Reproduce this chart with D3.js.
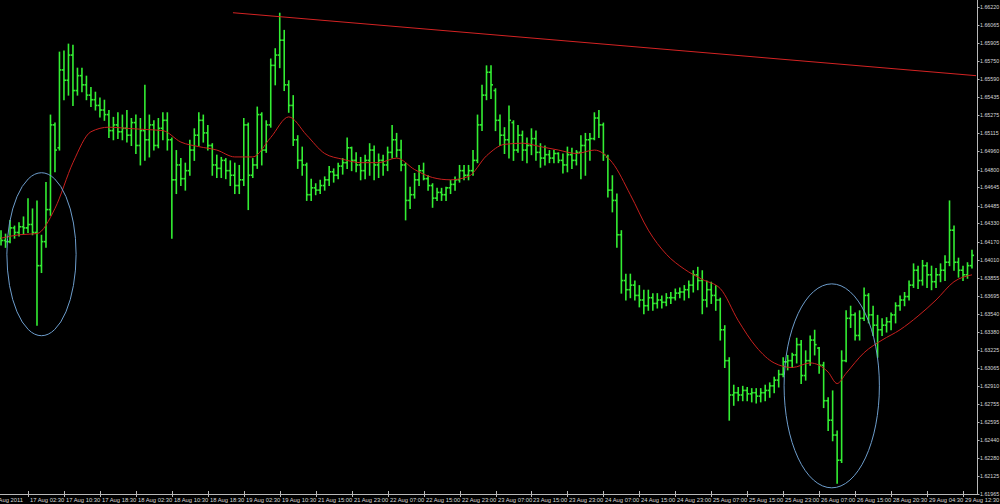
<!DOCTYPE html>
<html>
<head>
<meta charset="utf-8">
<script src="https://cdn.jsdelivr.net/npm/d3@7"></script>
<style>
html,body{margin:0;padding:0;background:#000;}
svg{display:block;}
</style>
</head>
<body>
<svg id="chart" width="1000" height="504"></svg>
<script>
// ---- data (GBPUSD-style bars, one bar per slot) ----
const opens = [1.6420,1.6418,1.6417,1.6429,1.6425,1.6430,1.6429,1.6432,1.6425,1.6396,
1.6417,1.6445,1.6519,1.6499,1.6567,1.6558,1.6580,1.6549,1.6562,1.6554,
1.6545,1.6541,1.6536,1.6532,1.6528,1.6514,1.6519,1.6513,1.6516,1.6510,
1.6521,1.6501,1.6514,1.6506,1.6519,1.6501,1.6516,1.6523,1.6506,1.6471,
1.6484,1.6472,1.6479,1.6497,1.6510,1.6523,1.6512,1.6501,1.6484,1.6481,
1.6488,1.6479,1.6475,1.6466,1.6471,1.6519,1.6475,1.6484,1.6528,1.6497,
1.6519,1.6571,1.6580,1.6593,1.6554,1.6536,1.6506,1.6488,1.6484,1.6458,
1.6464,1.6462,1.6466,1.6471,1.6478,1.6475,1.6483,1.6486,1.6499,1.6488,
1.6484,1.6479,1.6488,1.6497,1.6484,1.6488,1.6484,1.6495,1.6506,1.6497,
1.6484,1.6453,1.6458,1.6471,1.6479,1.6472,1.6466,1.6455,1.6460,1.6458,
1.6464,1.6467,1.6471,1.6479,1.6475,1.6479,1.6488,1.6519,1.6545,1.6565,
1.6549,1.6523,1.6510,1.6506,1.6521,1.6497,1.6510,1.6497,1.6501,1.6507,
1.6495,1.6490,1.6493,1.6490,1.6494,1.6488,1.6484,1.6493,1.6488,1.6495,
1.6501,1.6506,1.6507,1.6525,1.6519,1.6491,1.6462,1.6453,1.6423,1.6383,
1.6375,1.6379,1.6370,1.6366,1.6361,1.6368,1.6363,1.6366,1.6364,1.6368,
1.6368,1.6372,1.6373,1.6375,1.6379,1.6388,1.6383,1.6366,1.6375,1.6370,
1.6366,1.6340,1.6313,1.6283,1.6285,1.6283,1.6287,1.6284,1.6285,1.6282,
1.6285,1.6287,1.6291,1.6296,1.6301,1.6312,1.6313,1.6318,1.6327,1.6300,
1.6313,1.6331,1.6324,1.6309,1.6278,1.6261,1.6248,1.6226,1.6313,1.6350,
1.6353,1.6335,1.6350,1.6370,1.6353,1.6344,1.6340,1.6344,1.6347,1.6353,
1.6361,1.6366,1.6369,1.6379,1.6392,1.6383,1.6396,1.6388,1.6382,1.6388,
1.6392,1.6399,1.6427,1.6399,1.6392,1.6388,1.6396];

const highs = [1.6427,1.6424,1.6436,1.6431,1.6434,1.6439,1.6455,1.6446,1.6453,1.6423,
1.6469,1.6528,1.6521,1.6583,1.6584,1.6590,1.6589,1.6569,1.6569,1.6562,
1.6552,1.6548,1.6543,1.6541,1.6532,1.6526,1.6530,1.6528,1.6532,1.6525,
1.6528,1.6525,1.6554,1.6528,1.6523,1.6525,1.6530,1.6530,1.6508,1.6497,
1.6490,1.6486,1.6506,1.6516,1.6530,1.6528,1.6519,1.6503,1.6493,1.6491,
1.6490,1.6488,1.6486,1.6484,1.6525,1.6521,1.6490,1.6535,1.6530,1.6523,
1.6577,1.6586,1.6617,1.6602,1.6558,1.6545,1.6510,1.6500,1.6486,1.6472,
1.6468,1.6471,1.6474,1.6483,1.6481,1.6486,1.6490,1.6508,1.6500,1.6495,
1.6491,1.6493,1.6503,1.6501,1.6494,1.6493,1.6500,1.6519,1.6512,1.6506,
1.6486,1.6465,1.6477,1.6484,1.6486,1.6475,1.6468,1.6464,1.6464,1.6465,
1.6471,1.6474,1.6484,1.6484,1.6484,1.6497,1.6528,1.6554,1.6571,1.6571,
1.6551,1.6528,1.6517,1.6536,1.6523,1.6519,1.6514,1.6508,1.6516,1.6514,
1.6503,1.6501,1.6497,1.6497,1.6495,1.6494,1.6500,1.6499,1.6497,1.6510,
1.6512,1.6512,1.6530,1.6532,1.6521,1.6493,1.6475,1.6459,1.6427,1.6389,
1.6389,1.6383,1.6379,1.6375,1.6375,1.6372,1.6372,1.6370,1.6372,1.6373,
1.6376,1.6377,1.6379,1.6383,1.6392,1.6395,1.6392,1.6383,1.6382,1.6379,
1.6368,1.6344,1.6316,1.6292,1.6290,1.6291,1.6290,1.6289,1.6289,1.6289,
1.6292,1.6294,1.6299,1.6305,1.6316,1.6318,1.6320,1.6333,1.6331,1.6322,
1.6335,1.6340,1.6325,1.6312,1.6281,1.6287,1.6252,1.6322,1.6357,1.6361,
1.6355,1.6357,1.6377,1.6372,1.6361,1.6353,1.6350,1.6351,1.6355,1.6364,
1.6370,1.6373,1.6383,1.6398,1.6396,1.6401,1.6399,1.6396,1.6394,1.6398,
1.6405,1.6453,1.6431,1.6403,1.6396,1.6399,1.6410];

const lows = [1.6414,1.6412,1.6416,1.6420,1.6422,1.6424,1.6425,1.6423,1.6344,1.6390,
1.6412,1.6440,1.6478,1.6497,1.6541,1.6545,1.6536,1.6545,1.6548,1.6541,
1.6535,1.6532,1.6526,1.6523,1.6508,1.6506,1.6507,1.6506,1.6504,1.6501,
1.6494,1.6484,1.6488,1.6491,1.6497,1.6499,1.6506,1.6497,1.6420,1.6459,
1.6466,1.6462,1.6475,1.6488,1.6501,1.6504,1.6497,1.6475,1.6473,1.6473,
1.6472,1.6466,1.6459,1.6459,1.6466,1.6445,1.6473,1.6481,1.6484,1.6495,
1.6517,1.6554,1.6569,1.6549,1.6530,1.6501,1.6481,1.6475,1.6453,1.6453,
1.6458,1.6459,1.6462,1.6466,1.6469,1.6472,1.6476,1.6481,1.6479,1.6478,
1.6471,1.6472,1.6475,1.6471,1.6473,1.6475,1.6479,1.6490,1.6491,1.6479,
1.6436,1.6446,1.6455,1.6466,1.6471,1.6462,1.6447,1.6453,1.6453,1.6453,
1.6459,1.6462,1.6469,1.6471,1.6471,1.6475,1.6486,1.6514,1.6541,1.6542,
1.6514,1.6501,1.6494,1.6490,1.6488,1.6495,1.6488,1.6486,1.6493,1.6488,
1.6482,1.6484,1.6486,1.6486,1.6486,1.6477,1.6478,1.6481,1.6484,1.6472,
1.6475,1.6488,1.6506,1.6508,1.6488,1.6456,1.6443,1.6412,1.6372,1.6366,
1.6368,1.6366,1.6360,1.6354,1.6357,1.6357,1.6359,1.6359,1.6361,1.6363,
1.6366,1.6368,1.6366,1.6368,1.6373,1.6375,1.6354,1.6360,1.6363,1.6357,
1.6331,1.6307,1.6261,1.6274,1.6278,1.6278,1.6278,1.6277,1.6276,1.6277,
1.6278,1.6281,1.6285,1.6290,1.6299,1.6305,1.6307,1.6311,1.6293,1.6296,
1.6309,1.6318,1.6302,1.6272,1.6252,1.6243,1.6206,1.6224,1.6312,1.6342,
1.6331,1.6331,1.6348,1.6346,1.6335,1.6316,1.6335,1.6338,1.6340,1.6346,
1.6357,1.6361,1.6366,1.6377,1.6376,1.6379,1.6377,1.6375,1.6377,1.6382,
1.6383,1.6396,1.6392,1.6386,1.6383,1.6385,1.6394];

const closes = [1.6418,1.6417,1.6429,1.6425,1.6430,1.6429,1.6432,1.6425,1.6396,1.6417,
1.6445,1.6519,1.6497,1.6567,1.6558,1.6580,1.6549,1.6562,1.6554,1.6545,
1.6541,1.6536,1.6532,1.6528,1.6514,1.6519,1.6513,1.6516,1.6510,1.6521,
1.6501,1.6514,1.6506,1.6519,1.6501,1.6516,1.6523,1.6506,1.6471,1.6484,
1.6472,1.6479,1.6497,1.6510,1.6523,1.6512,1.6501,1.6484,1.6481,1.6488,
1.6479,1.6475,1.6466,1.6471,1.6519,1.6475,1.6484,1.6528,1.6497,1.6519,
1.6571,1.6580,1.6593,1.6554,1.6536,1.6506,1.6488,1.6484,1.6458,1.6464,
1.6462,1.6466,1.6471,1.6478,1.6475,1.6483,1.6486,1.6499,1.6488,1.6484,
1.6479,1.6488,1.6497,1.6484,1.6488,1.6484,1.6495,1.6506,1.6497,1.6484,
1.6453,1.6458,1.6471,1.6479,1.6472,1.6466,1.6455,1.6460,1.6458,1.6464,
1.6467,1.6471,1.6479,1.6475,1.6479,1.6488,1.6519,1.6545,1.6565,1.6554,
1.6523,1.6510,1.6506,1.6523,1.6497,1.6510,1.6497,1.6501,1.6507,1.6495,
1.6490,1.6493,1.6490,1.6494,1.6488,1.6484,1.6493,1.6488,1.6495,1.6501,
1.6506,1.6507,1.6525,1.6519,1.6493,1.6462,1.6453,1.6423,1.6383,1.6375,
1.6379,1.6370,1.6366,1.6361,1.6368,1.6363,1.6366,1.6364,1.6368,1.6368,
1.6372,1.6373,1.6375,1.6379,1.6388,1.6383,1.6366,1.6375,1.6370,1.6366,
1.6340,1.6313,1.6283,1.6285,1.6283,1.6287,1.6284,1.6285,1.6282,1.6285,
1.6287,1.6291,1.6296,1.6301,1.6312,1.6313,1.6318,1.6327,1.6300,1.6313,
1.6331,1.6327,1.6309,1.6278,1.6261,1.6248,1.6226,1.6313,1.6350,1.6353,
1.6335,1.6350,1.6370,1.6353,1.6344,1.6340,1.6344,1.6347,1.6353,1.6361,
1.6366,1.6369,1.6379,1.6392,1.6383,1.6396,1.6388,1.6382,1.6388,1.6392,
1.6399,1.6427,1.6399,1.6392,1.6388,1.6396,1.6405];

// moving average, read at selected bar indices
const maIndex = [0,4,8,12,16,20,24,28,32,36,40,44,48,52,56,60,64,68,72,76,80,84,88,92,96,100,104,108,112,116,120,124,128,132,136,140,144,148,152,156,160,164,168,172,176,180,184,186,188,192,196,200,204,208,212,216];
const maValues = [1.6420,1.6423,1.6424,1.6446,1.6486,1.6513,1.6517,1.6516,1.6515,1.6514,1.6504,1.6500,1.6497,1.6491,1.6491,1.6508,1.6526,1.6510,1.6494,1.6489,1.6486,1.6486,1.6490,1.6480,1.6473,1.6471,1.6474,1.6492,1.6502,1.6503,1.6500,1.6497,1.6494,1.6497,1.6486,1.6458,1.6427,1.6406,1.6393,1.6384,1.6376,1.6348,1.6325,1.6311,1.6307,1.6311,1.6303,1.6293,1.6302,1.6320,1.6331,1.6340,1.6352,1.6366,1.6382,1.6388];

// resistance trend line (bar index, price)
const trendIdx = [51.6, 216.9];
const trendPrice = [1.6617, 1.6562];

// highlighted zones: centre bar, centre price, half width (bars), half height (price)
const ellipseIdx = [9.0, 184.8];
const ellipsePrice = [1.6406, 1.6291];
const ellipseHalfBars = [7.7, 10.6];
const ellipseHalfPrice = [0.00712, 0.00891];

// axes
const priceTicks = ["1.66220","1.66065","1.65905","1.65750","1.65590","1.65435","1.65275","1.65115","1.64960","1.64800","1.64645","1.64485","1.64330","1.64170","1.64010","1.63855","1.63695","1.63540","1.63380","1.63225","1.63065","1.62910","1.62755","1.62595","1.62440","1.62280","1.62125","1.61965"];
const timeTickIdx = [6,14,22,30,38,46,54,62,70,78,86,94,102,110,118,126,134,142,150,158,166,174,182,190,198,206,214];
const timeTicks = ["17 Aug 02:30","17 Aug 10:30","17 Aug 18:30","18 Aug 02:30","18 Aug 10:30","18 Aug 18:30","19 Aug 02:30","19 Aug 10:30","21 Aug 15:00","21 Aug 23:00","22 Aug 07:00","22 Aug 15:00","22 Aug 23:00","23 Aug 07:00","23 Aug 15:00","23 Aug 23:00","24 Aug 07:00","24 Aug 15:00","24 Aug 23:00","25 Aug 07:00","25 Aug 15:00","25 Aug 23:00","26 Aug 07:00","26 Aug 15:00","28 Aug 20:30","29 Aug 04:30","29 Aug 12:30"];
const firstDateLabel = "16 Aug 2011";

// ---- drawing ----
const W = 1000, H = 504;
const plotRight = 977, plotBottom = 494;
const svg = d3.select("#chart");
svg.append("rect").attr("width", W).attr("height", H).attr("fill", "#000");

const x = d3.scaleLinear().domain([6, 214]).range([28, 963]);
const y = d3.scaleLinear().domain([1.61965, 1.66220]).range([plotBottom, 7]);

svg.append("clipPath").attr("id", "plotclip")
  .append("rect").attr("x", 0).attr("y", 0).attr("width", plotRight).attr("height", plotBottom);

const plot = svg.append("g").attr("clip-path", "url(#plotclip)");

const bars = d3.range(opens.length).map(i => ({i, o: opens[i], h: highs[i], l: lows[i], c: closes[i]}));
const barColor = "#33ee33";
const tick = 2;
const bg = plot.append("g").attr("stroke", barColor).attr("stroke-width", 1.6);
bg.selectAll("line.hl").data(bars).join("line").attr("class", "hl")
  .attr("x1", d => x(d.i)).attr("x2", d => x(d.i))
  .attr("y1", d => y(d.h)).attr("y2", d => y(d.l) + 0.5);
bg.selectAll("line.op").data(bars).join("line").attr("class", "op")
  .attr("x1", d => x(d.i) - tick).attr("x2", d => x(d.i))
  .attr("y1", d => y(d.o)).attr("y2", d => y(d.o));
bg.selectAll("line.cl").data(bars).join("line").attr("class", "cl")
  .attr("x1", d => x(d.i)).attr("x2", d => x(d.i) + tick)
  .attr("y1", d => y(d.c)).attr("y2", d => y(d.c));

// moving average
const maPts = maIndex.map((k, j) => [k, maValues[j]]);
plot.append("path").datum(maPts)
  .attr("fill", "none").attr("stroke", "#c8201e").attr("stroke-width", 1)
  .attr("d", d3.line().x(d => x(d[0])).y(d => y(d[1])).curve(d3.curveMonotoneX));

// trend line
plot.append("line")
  .attr("x1", x(trendIdx[0])).attr("y1", y(trendPrice[0]))
  .attr("x2", x(trendIdx[1])).attr("y2", y(trendPrice[1]))
  .attr("stroke", "#d42323").attr("stroke-width", 1);

// ellipses
ellipseIdx.forEach((k, j) => {
  const cx = x(k), cy = y(ellipsePrice[j]);
  const rx = x(k + ellipseHalfBars[j]) - cx;
  const ry = y(ellipsePrice[j] - ellipseHalfPrice[j]) - cy;
  plot.append("ellipse").attr("cx", cx).attr("cy", cy).attr("rx", rx).attr("ry", ry)
    .attr("fill", "none").attr("stroke", "#6d9dcc").attr("stroke-width", 1);
});

// axes frame
const axisColor = "#b8b8b8";
const textColor = "#d8d8d8";
const font = "'Liberation Sans', Arial, sans-serif";
svg.append("line").attr("x1", plotRight + 0.5).attr("x2", plotRight + 0.5).attr("y1", 0).attr("y2", plotBottom + 0.5)
  .attr("stroke", axisColor).attr("stroke-width", 1);
svg.append("line").attr("x1", 0).attr("x2", plotRight + 0.5).attr("y1", plotBottom + 0.5).attr("y2", plotBottom + 0.5)
  .attr("stroke", axisColor).attr("stroke-width", 1);

// price axis
const yAxisG = svg.append("g");
priceTicks.forEach(t => {
  const py = Math.round(y(+t)) + 0.5;
  yAxisG.append("line").attr("x1", plotRight).attr("x2", plotRight + 2.5).attr("y1", py).attr("y2", py)
    .attr("stroke", axisColor).attr("stroke-width", 1);
  yAxisG.append("text").attr("x", plotRight + 3).attr("y", py).attr("dy", "0.35em")
    .attr("fill", textColor).attr("font-family", font).attr("font-size", 5.3).text(t);
});

// time axis
const xAxisG = svg.append("g");
timeTickIdx.forEach((k, j) => {
  const px = Math.round(x(k)) + 0.5;
  xAxisG.append("line").attr("x1", px).attr("x2", px).attr("y1", plotBottom - 3).attr("y2", plotBottom + 3)
    .attr("stroke", axisColor).attr("stroke-width", 1);
  xAxisG.append("text").attr("x", px + 1.5).attr("y", 502)
    .attr("fill", textColor).attr("font-family", font).attr("font-size", 5.8).text(timeTicks[j]);
});
xAxisG.append("text").attr("x", 23).attr("y", 502).attr("text-anchor", "end")
  .attr("fill", textColor).attr("font-family", font).attr("font-size", 5.8).text(firstDateLabel);
</script>
</body>
</html>
